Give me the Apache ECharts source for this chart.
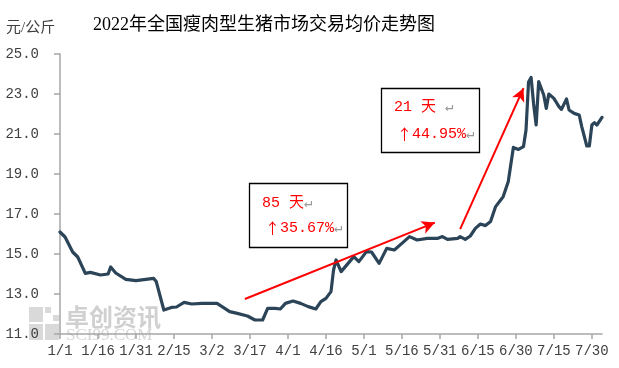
<!DOCTYPE html>
<html>
<head>
<meta charset="utf-8">
<script src="https://cdn.jsdelivr.net/npm/echarts@6/dist/echarts.min.js"></script>
<style>html,body{margin:0;padding:0;background:#fff}#c{width:619px;height:368px}</style>
</head>
<body>
<div id="c"></div>
<script>
// Sample dates (M/D, 2022) and prices (元/公斤)
const dates = ['1/1','1/3','1/4','1/6','1/8','1/11','1/13','1/17','1/20','1/21','1/23','1/27','1/31','2/7','2/8','2/11','2/14','2/16','2/19','2/22','2/26','3/4','3/9','3/12','3/16','3/19','3/22','3/24','3/27','3/29','3/31','4/3','4/6','4/9','4/12','4/14','4/16','4/18','4/19','4/20','4/22','4/27','4/29','5/2','5/4','5/7','5/10','5/13','5/16','5/19','5/22','5/26','5/30','6/1','6/3','6/7','6/8','6/10','6/12','6/14','6/16','6/18','6/20','6/22','6/24','6/25','6/27','6/29','7/1','7/3','7/4','7/5','7/6','7/7','7/8','7/9','7/11','7/12','7/13','7/15','7/17','7/18','7/20','7/21','7/23','7/25','7/26','7/28','7/29','7/30','7/31','8/1','8/3'];
const prices = [16.1,15.85,15.6,15.1,14.85,14.03,14.08,13.95,14.0,14.35,14.05,13.73,13.67,13.78,13.62,12.2,12.33,12.35,12.58,12.5,12.53,12.53,12.12,12.03,11.9,11.7,11.7,12.28,12.28,12.25,12.53,12.65,12.53,12.37,12.25,12.62,12.78,13.12,14.2,14.7,14.12,14.87,14.62,15.12,15.1,14.53,15.28,15.2,15.53,15.87,15.7,15.78,15.78,15.87,15.73,15.78,15.87,15.73,15.9,16.28,16.5,16.42,16.62,17.37,17.7,17.87,18.62,20.33,20.23,20.37,21.2,23.6,23.83,22.5,21.45,23.62,22.95,22.28,23.0,22.78,22.37,22.23,22.75,22.2,22.03,21.95,21.37,20.4,20.4,21.45,21.57,21.45,21.83];
const yTicks = [11, 25, 2]; // min, max, interval
// Annotation arrows: [startDate, startValue, endDate, endValue]
const arrows = [['3/15', 12.75, '5/29', 16.57], ['6/8', 16.24, '7/3', 23.29]];
const notes = [['85 天', '35.67%'], ['21 天 ', '44.95%']];

const categories = [];
for (let i = 0; i < 215; i++) {
  const d = new Date(2022, 0, 1 + i);
  categories.push((d.getMonth() + 1) + '/' + d.getDate());
}
const mono = '"Liberation Mono", "Noto Sans CJK SC", monospace';
const cjk = '"Liberation Serif", "Noto Sans CJK SC", serif';
const showIdx = (i) => i % 15 === 0;
const noteRich = {
  r: {fill: '#ff0000', fontSize: 15, fontFamily: mono},
  a: {fill: '#ff0000', fontSize: 15, fontFamily: '"Noto Sans CJK SC"'},
  g: {fill: '#999', fontSize: 14, fontFamily: mono}
};

const chart = echarts.init(document.getElementById('c'), null, {renderer: 'canvas'});
const option = {
  animation: false,
  backgroundColor: '#fff',
  title: {
    text: '2022年全国瘦肉型生猪市场交易均价走势图',
    left: 93, top: 16, padding: 0,
    textStyle: {fontSize: 18, fontWeight: 'normal', color: '#000', fontFamily: cjk}
  },
  grid: {left: 60, right: 17, top: 54, bottom: 34, containLabel: false},
  xAxis: {
    type: 'category', data: categories, boundaryGap: false,
    axisLine: {lineStyle: {color: '#a6a6a6', width: 1.5}},
    axisTick: {interval: showIdx, length: 5, lineStyle: {color: '#a6a6a6', width: 1.5}},
    axisLabel: {interval: showIdx, margin: 10, fontSize: 14, color: '#404040', fontFamily: mono},
    splitLine: {show: false}
  },
  yAxis: {
    type: 'value', min: yTicks[0], max: yTicks[1], interval: yTicks[2],
    axisLine: {show: true, lineStyle: {color: '#a6a6a6', width: 1.5}},
    axisTick: {show: true, length: 6, lineStyle: {color: '#a6a6a6', width: 1.5}},
    axisLabel: {margin: 21, fontSize: 14, color: '#404040', fontFamily: mono, formatter: v => v.toFixed(1)},
    splitLine: {show: false}
  },
  series: [{
    type: 'line',
    data: dates.map((d, i) => [d, prices[i]]),
    showSymbol: false, symbol: 'none',
    lineStyle: {color: '#2b4458', width: 3.2, join: 'round', cap: 'round'},
    z: 3,
    markLine: {
      silent: true, animation: false,
      symbol: ['none', 'arrow'], symbolSize: [10, 13],
      label: {show: false},
      lineStyle: {color: '#ff0000', width: 2, type: 'solid'},
      emphasis: {disabled: true},
      data: arrows.map(a => [{coord: [a[0], a[1]]}, {coord: [a[2], a[3]]}])
    }
  }],
  graphic: [
    // watermark
    {type: 'rect', z: -10, shape: {x: 29, y: 307, width: 14, height: 15}, style: {fill: '#d9d9d9'}},
    {type: 'rect', z: -10, shape: {x: 29, y: 324, width: 14, height: 16}, style: {fill: '#d9d9d9'}},
    {type: 'rect', z: -10, shape: {x: 45, y: 324, width: 14, height: 16}, style: {fill: '#d9d9d9'}},
    {type: 'rect', z: -10, shape: {x: 45, y: 307, width: 6, height: 6}, style: {fill: '#d9d9d9'}},
    {type: 'rect', z: -10, shape: {x: 53, y: 315, width: 6, height: 6}, style: {fill: '#d9d9d9'}},
    {type: 'text', z: -10, left: 65, top: 305, style: {text: '卓创资讯', fill: '#d0d0d0', font: 'bold 24px "Noto Sans CJK SC"'}},
    {type: 'text', z: -10, left: 66, top: 327, style: {text: 'SCI99.COM', fill: '#d6d6d6', font: '17px "Liberation Serif"'}},
    // unit
    {type: 'text', left: 6, top: 21, style: {text: '元/公斤', fill: '#404040', font: '15px ' + cjk}},
    // annotation boxes
    {type: 'rect', z: 10, shape: {x: 249.5, y: 183.5, width: 98, height: 64}, style: {fill: '#fff', stroke: '#000', lineWidth: 1.3}},
    {type: 'text', z: 11, left: 262, top: 196, style: {text: '{r|' + notes[0][0] + '}{g|↵}', rich: noteRich}},
    {type: 'text', z: 11, left: 265, top: 221, style: {text: '{a|↑}{r|' + notes[0][1] + '}{g|↵}', rich: noteRich}},
    {type: 'rect', z: 10, shape: {x: 381.5, y: 88.5, width: 98, height: 64}, style: {fill: '#fff', stroke: '#000', lineWidth: 1.3}},
    {type: 'text', z: 11, left: 394, top: 100, style: {text: '{r|' + notes[1][0] + '}{g|↵}', rich: noteRich}},
    {type: 'text', z: 11, left: 397, top: 127, style: {text: '{a|↑}{r|' + notes[1][1] + '}{g|↵}', rich: noteRich}}
  ]
};
chart.setOption(option);
</script>
</body>
</html>
